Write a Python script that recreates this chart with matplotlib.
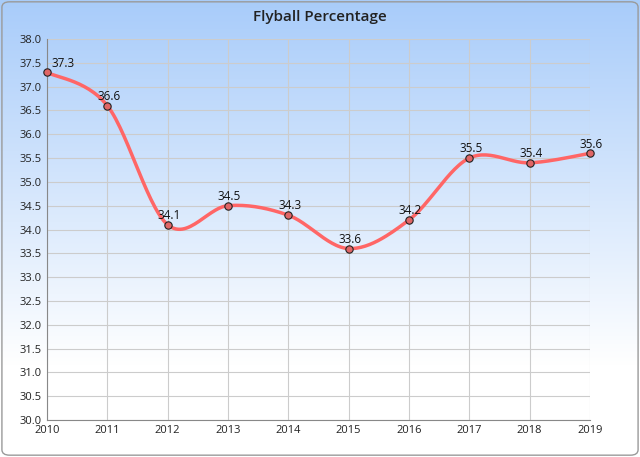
import numpy as np
import matplotlib
matplotlib.use("Agg")
import matplotlib.pyplot as plt
from matplotlib.patches import FancyBboxPatch

years = [2010, 2011, 2012, 2013, 2014, 2015, 2016, 2017, 2018, 2019]
values = [37.3, 36.6, 34.1, 34.5, 34.3, 33.6, 34.2, 35.5, 35.4, 35.6]
yticks = np.arange(30.0, 38.01, 0.5)

fig = plt.figure(figsize=(6.4, 4.57), dpi=100)
bg = fig.add_axes([0, 0, 1, 1], zorder=-10)
grad = np.clip(np.linspace(0, 1, 256) / 0.8, 0, 1).reshape(-1, 1)
top = np.array([0.66, 0.80, 0.98]); bot = np.array([1, 1, 1])
img = top[None, None, :] * (1 - grad[:, :, None]) + bot[None, None, :] * grad[:, :, None]
img = np.clip(img, 0, 1)
bg.imshow(img, aspect="auto", extent=[0, 1, 0, 1], origin="upper")
bg.add_patch(FancyBboxPatch((0.003, 0.004), 0.994, 0.992, boxstyle="round,pad=0,rounding_size=0.012",
                            fill=False, edgecolor="#9a9a9a", lw=1, transform=bg.transAxes))
bg.set_xlim(0, 1); bg.set_ylim(0, 1); bg.axis("off")

ax = fig.add_axes([47/640, 1-420/457, (590-47)/640, (420-39)/457])
ax.set_facecolor("none")
x = np.array(years, float); y = np.array(values)

# Catmull-Rom smoothing for the line
xs, ys = [], []
P = np.column_stack([x, y])
P = np.vstack([P[0], P, P[-1]])
for i in range(1, len(P) - 2):
    t = np.linspace(0, 1, 30)[:, None]
    p0, p1, p2, p3 = P[i-1], P[i], P[i+1], P[i+2]
    c = 0.5 * ((2*p1) + (-p0+p2)*t + (2*p0-5*p1+4*p2-p3)*t**2 + (-p0+3*p1-3*p2+p3)*t**3)
    xs.extend(c[:, 0]); ys.extend(c[:, 1])
ax.plot(xs, ys, color="#ff6666", lw=2.5, zorder=3, clip_on=False)
ax.scatter(x, y, s=28, color="#e06666", edgecolor="#222222", lw=0.8, zorder=4, clip_on=False)
for i, (xi, yi) in enumerate(zip(x, y)):
    if i == 0:
        ax.annotate(f"{yi:.1f}", (xi, yi), xytext=(3, 2), textcoords="offset points",
                    ha="left", va="bottom", fontsize=8.5, color="#111111", family="Open Sans")
    else:
        ax.annotate(f"{yi:.1f}", (xi, yi), xytext=(1, 2), textcoords="offset points",
                    ha="center", va="bottom", fontsize=8.5, color="#111111", family="Open Sans")

ax.set_xlim(2010, 2019); ax.set_ylim(30, 38)
ax.set_xticks(years); ax.set_yticks(yticks)
ax.set_yticklabels([f"{v:.1f}" for v in yticks])
ax.grid(True, color="#cccccc", lw=0.8)
ax.tick_params(labelsize=8, length=0, colors="#222222")
for lab in ax.get_xticklabels() + ax.get_yticklabels():
    lab.set_family("Open Sans")
for s in ["top", "right"]:
    ax.spines[s].set_visible(False)
ax.spines["left"].set_color("#888888"); ax.spines["bottom"].set_color("#888888")
fig.text(0.5, 1-17/457, "Flyball Percentage", ha="center", va="center", fontsize=11,
         family="Open Sans", fontweight="semibold", color="#222222")
fig.savefig("out.png", dpi=100)
